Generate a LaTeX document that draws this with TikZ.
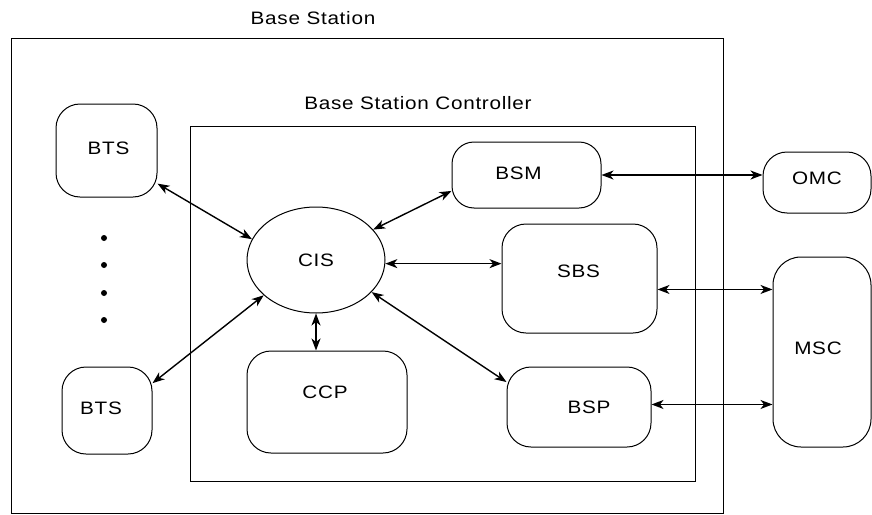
\documentclass[tikz,border=0pt]{standalone}
\usepackage{fontspec}
\setmainfont{Liberation Sans}[FakeStretch=1.15,LetterSpace=4]
\usetikzlibrary{arrows.meta,shapes.geometric}
\begin{document}
\begin{tikzpicture}[x=1pt,y=-1pt,
  every node/.style={font=\fontsize{18}{21}\selectfont},
  frame/.style={draw,line width=1pt},
  rbox/.style={draw,line width=1pt,rounded corners=24pt,inner sep=0pt},
  link/.style={line width=1.4pt,{Stealth[length=12pt,width=9pt,inset=3.5pt]}-{Stealth[length=12pt,width=9pt,inset=3.5pt]}},
  dot/.style={circle,fill,inner sep=0pt,minimum size=6pt}]
\useasboundingbox (0,0) rectangle (872,514);
% frames
\draw[frame] (11,38) rectangle (723,513);
\draw[frame] (190,126) rectangle (695,481);
\node (lbs) at (313,18) {Base Station};
\node (lbsc) at (418,103) {Base Station Controller};
% BTS
\node[rbox,minimum width=101pt,minimum height=93pt,label={[xshift=2pt,yshift=2pt]center:BTS}] (btsA) at (106.5,150.5) {};
\node[rbox,minimum width=90pt,minimum height=87pt,label={[xshift=-6pt,yshift=2pt]center:BTS}] (btsB) at (107,410.5) {};
\node[dot] (d1) at (104,238) {};
\node[dot] (d2) at (104,265) {};
\node[dot] (d3) at (104,293) {};
\node[dot] (d4) at (104,320) {};
% CIS
\node[draw,ellipse,line width=1pt,minimum width=138pt,minimum height=106pt,inner sep=0pt] (cis) at (316,260) {CIS};
% CCP
\node[rbox,minimum width=160pt,minimum height=102pt,label={[xshift=-2pt,yshift=10pt]center:CCP}] (ccp) at (327,402) {};
% BSM
\node[rbox,rounded corners=22pt,minimum width=149pt,minimum height=66pt,label={[xshift=-8pt,yshift=2pt]center:BSM}] (bsm) at (526.5,175) {};
% SBS
\node[rbox,minimum width=155pt,minimum height=109pt,label={[xshift=-1pt,yshift=7pt]center:SBS}] (sbs) at (579.5,278.5) {};
% BSP
\node[rbox,minimum width=144pt,minimum height=80pt,label={[xshift=10pt,yshift=0pt]center:BSP}] (bsp) at (579,407) {};
% OMC
\node[rbox,rounded corners=24pt,minimum width=108pt,minimum height=61pt,label={[xshift=0pt,yshift=4pt]center:OMC}] (omc) at (817,182.5) {};
% MSC
\node[rbox,rounded corners=28pt,minimum width=98pt,minimum height=190pt,label={[xshift=-4pt,yshift=4pt]center:MSC}] (msc) at (822,352) {};
% links
\draw[link] (btsA.-33) -- (cis.162);
\draw[link] (btsB.31) -- (cis.214);
\draw[link] (cis.28.5) -- (bsm.192);
\draw[link] (cis.-3) -- (cis.-3 -| sbs.west);
\draw[link] (cis.-30) -- (bsp.161);
\draw[link] (cis.south) -- (cis.south |- ccp.north);
\draw[link] (bsm.east) -- (bsm.east -| omc.west);
\draw[link] (sbs.-8) -- (sbs.-8 -| msc.west);
\draw[link] (bsp.2) -- (bsp.2 -| msc.west);
\end{tikzpicture}
\end{document}
